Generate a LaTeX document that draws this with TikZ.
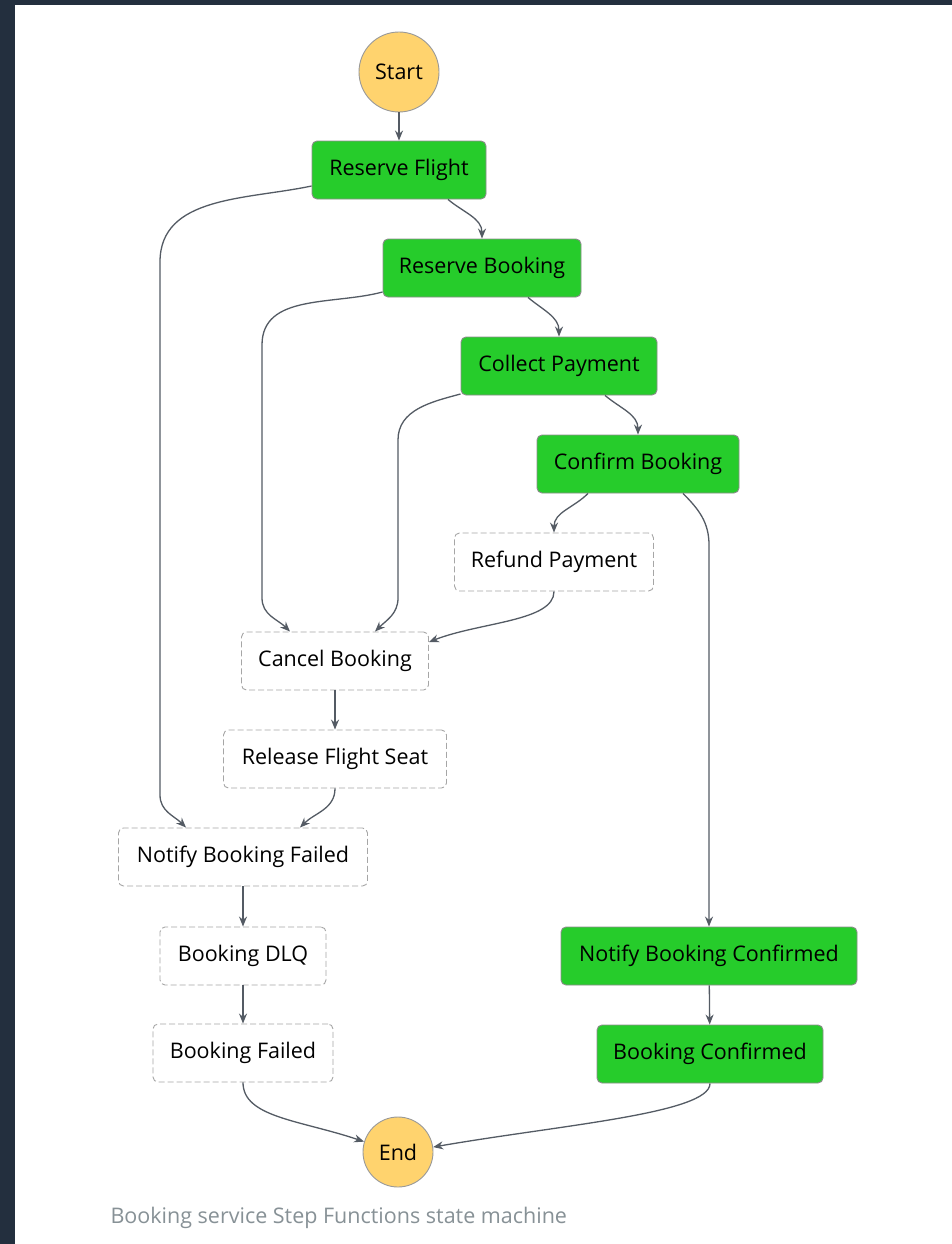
\documentclass[tikz,border=0pt]{standalone}
\usepackage{fontspec}
\setmainfont{Open Sans}
\usetikzlibrary{arrows.meta}
\definecolor{stategreen}{HTML}{26CC2B}
\definecolor{termyellow}{HTML}{FFD36E}
\definecolor{framenavy}{HTML}{232F3E}
\definecolor{edgegrey}{HTML}{545B64}
\definecolor{capgrey}{HTML}{879196}

\begin{document}
\begin{tikzpicture}[x=1pt,y=1pt,
  every node/.style={font=\fontsize{21.5}{25}\selectfont},
  state/.style={draw=black!45,rounded corners=5pt,minimum height=58pt,inner sep=0pt,line width=0.9pt},
  ran/.style={state,fill=stategreen},
  notran/.style={state,draw=black!35,fill=white,dash pattern=on 6pt off 3pt},
  term/.style={circle,draw=black!40,fill=termyellow,inner sep=0pt,line width=0.9pt},
  flow/.style={draw=edgegrey,line width=1.3pt,-{Stealth[length=10pt,width=8pt]}}]
\useasboundingbox (0,0) rectangle (952,-1244);
\fill[framenavy] (0,0) rectangle (952,-1244);
\fill[white] (15,-5) rectangle (952,-1244);
% states
\node[term,minimum size=80pt] (start) at (399,-72) {Start};
\node[ran,minimum width=174pt] (rf) at (399,-170) {Reserve Flight};
\node[ran,minimum width=198pt] (rb) at (482,-268) {Reserve Booking};
\node[ran,minimum width=196pt] (cp) at (559,-366) {Collect Payment};
\node[ran,minimum width=202pt] (cfb) at (638,-464) {Confirm Booking};
\node[notran,minimum width=199pt] (rp) at (554,-562) {Refund Payment};
\node[notran,minimum width=187pt] (cb) at (335,-661) {Cancel Booking};
\node[notran,minimum width=223pt] (rfs) at (335,-759) {Release Flight Seat};
\node[notran,minimum width=249pt] (nbf) at (243,-857) {Notify Booking Failed};
\node[notran,minimum width=166pt] (dlq) at (243,-956) {Booking DLQ};
\node[notran,minimum width=180pt] (bf) at (243,-1053) {Booking Failed};
\node[ran,minimum width=296pt] (nbc) at (709,-956) {Notify Booking Confirmed};
\node[ran,minimum width=226pt] (bc) at (710,-1054) {Booking Confirmed};
\node[term,minimum size=70pt] (end) at (398,-1152) {End};
\node[anchor=west,text=capgrey] (cap) at (107,-1218) {Booking service Step Functions state machine};
% transitions
\draw[flow] (start) -- (rf);
\draw[flow] ([xshift=49pt]rf.south) to[out=-40,in=90] (rb.north);
\draw[flow] ([yshift=-16pt]rf.west) to[out=192,in=90] (160,-262) -- (160,-795) to[out=-90,in=135] ([xshift=-57pt]nbf.north);
\draw[flow] ([xshift=46pt]rb.south) to[out=-40,in=90] (cp.north);
\draw[flow] ([yshift=-24pt]rb.west) to[out=195,in=90] (262,-345) -- (262,-598) to[out=-90,in=135] ([xshift=-45pt]cb.north);
\draw[flow] ([xshift=46pt]cp.south) to[out=-40,in=90] (cfb.north);
\draw[flow] ([yshift=-28pt]cp.west) to[out=195,in=90] (398,-440) -- (398,-598) to[out=-90,in=45] ([xshift=40pt]cb.north);
\draw[flow] ([xshift=-50pt]cfb.south) to[out=-135,in=90] (rp.north);
\draw[flow] ([xshift=45pt]cfb.south) to[out=-45,in=90] (709,-545) -- (nbc.north);
\draw[flow] (rp.south) .. controls ([yshift=-30pt]rp.south) and (480,-622) .. ([yshift=19pt]cb.east);
\draw[flow] (cb) -- (rfs);
\draw[flow] (rfs.south) to[out=-90,in=45] ([xshift=57pt]nbf.north);
\draw[flow] (nbf) -- (dlq);
\draw[flow] (dlq) -- (bf);
\draw[flow] (bf.south) .. controls ([yshift=-35pt]bf.south) and (300,-1120) .. (end.163);
\draw[flow] (nbc) -- (bc);
\draw[flow] (bc.south) .. controls ([yshift=-30pt]bc.south) and (560,-1125) .. (end.8);
\end{tikzpicture}
\end{document}
